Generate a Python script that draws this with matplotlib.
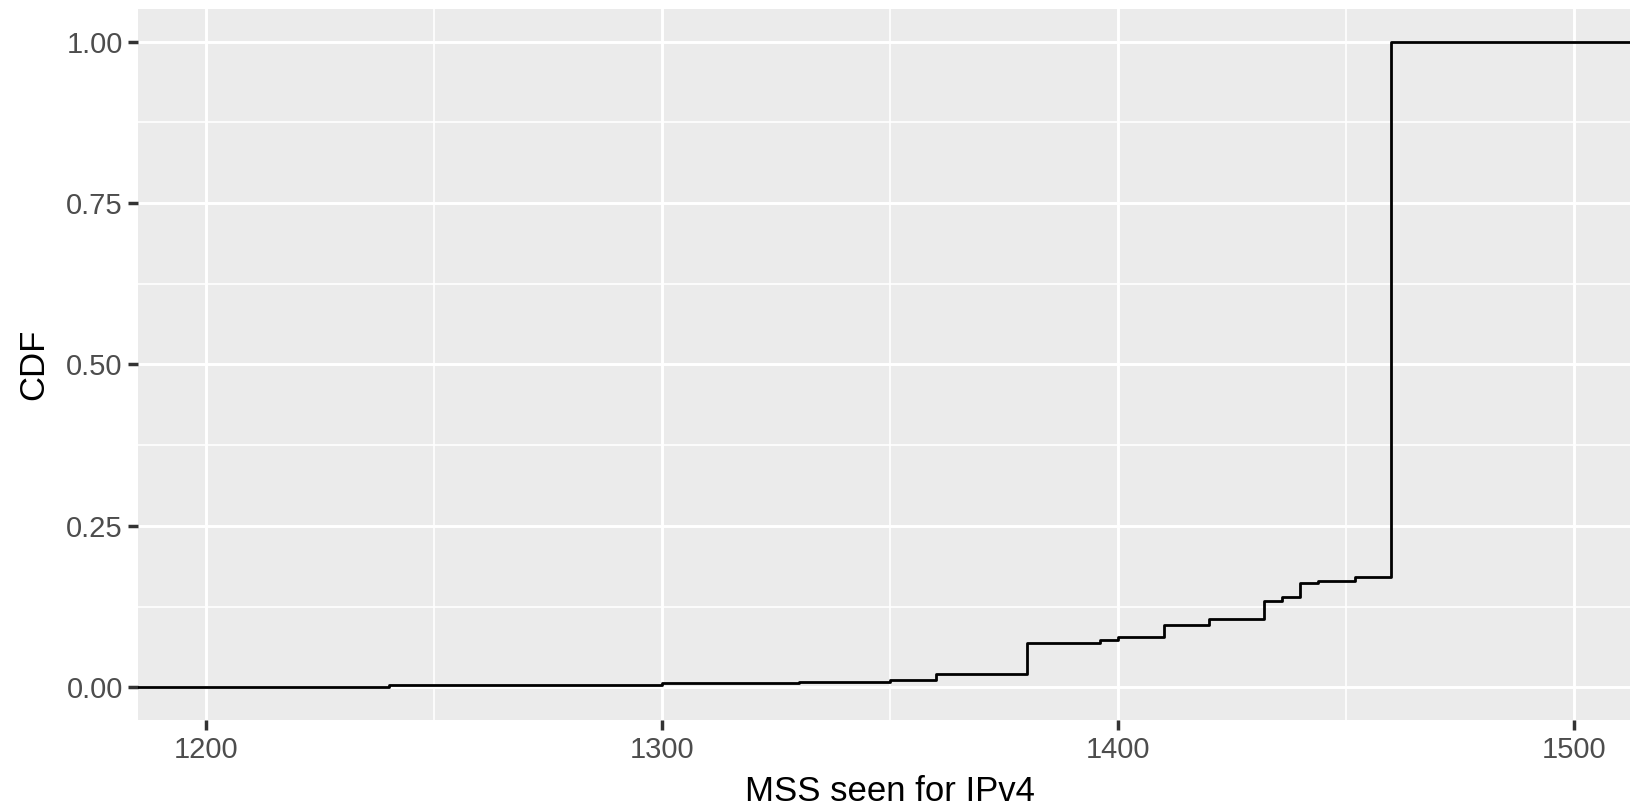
import numpy as np
import matplotlib
matplotlib.use("Agg")
import matplotlib.pyplot as plt

plt.rcParams['font.family'] = ['Liberation Sans', 'DejaVu Sans']

# ECDF of MSS values seen for IPv4
mss = [1200, 1212, 1240, 1300, 1330, 1350, 1360, 1380, 1396, 1400, 1410, 1420,
       1432, 1436, 1440, 1444, 1452, 1460]
cdf = [0.0005, 0.001, 0.003, 0.006, 0.0075, 0.0105, 0.020, 0.069, 0.073, 0.078, 0.096, 0.106,
       0.134, 0.139, 0.161, 0.164, 0.170, 1.000]

x_lim = (1185, 1515)
y_lim = (-0.05, 1.05)
x_major = [1200, 1300, 1400, 1500]
x_minor = [1250, 1350, 1450]
y_major = [0.0, 0.25, 0.5, 0.75, 1.0]
y_minor = [0.125, 0.375, 0.625, 0.875]

fig = plt.figure(figsize=(16.3, 8.08), dpi=100)
# panel runs a little past the right edge (the original was cropped there)
ax = fig.add_axes([0.0847, 0.1095, 0.9227, 0.879])
ax.set_facecolor('#EBEBEB')
for s in ax.spines.values():
    s.set_visible(False)

# ecdf is padded to -Inf / Inf like stat_ecdf
xs = np.concatenate([[x_lim[0] - 10], mss, [x_lim[1] + 10]])
ys = np.concatenate([[0.0], cdf, [1.0]])
ax.step(xs, ys, where='post', color='black', lw=2.0, zorder=3)

ax.set_xlim(*x_lim)
ax.set_ylim(*y_lim)
ax.set_xticks(x_major)
ax.set_xticks(x_minor, minor=True)
ax.set_yticks(y_major)
ax.set_yticks(y_minor, minor=True)
ax.set_yticklabels(['%.2f' % v for v in y_major])
ax.grid(which='major', color='white', lw=2.1)
ax.grid(which='minor', color='white', lw=1.2)
ax.set_axisbelow(True)
ax.tick_params(which='major', length=7, width=2.5, color='#333333',
               labelsize=21, labelcolor='#4D4D4D')
ax.tick_params(axis='x', which='major', pad=5)
ax.tick_params(axis='y', which='major', pad=4)
ax.tick_params(which='minor', length=0)

ax.set_xlabel('MSS seen for IPv4', fontsize=25, color='black', labelpad=8)
ax.set_ylabel('CDF', fontsize=25, color='black', labelpad=11.5)

fig.savefig('out.png', dpi=100)
